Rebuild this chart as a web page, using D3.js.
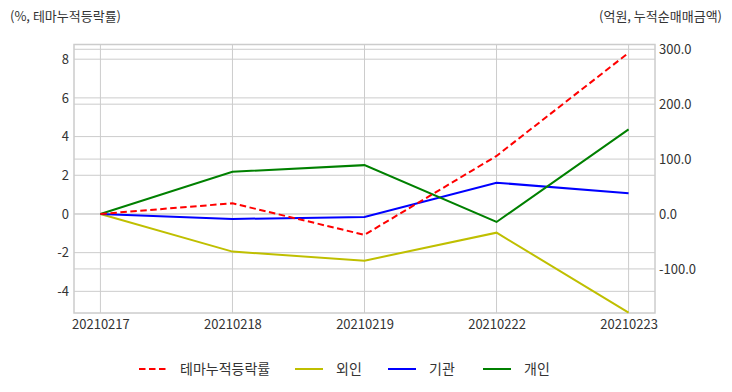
<!DOCTYPE html>
<html>
<head>
<meta charset="utf-8">
<script src="https://cdn.jsdelivr.net/npm/d3@7"></script>
<style>
  body { margin: 0; background: #fff; }
  svg text { font-family: "Noto Sans CJK KR", "Noto Sans", sans-serif; fill: #333; }
</style>
</head>
<body>
<div id="chart"></div>
<script>
// data
var dates = ["20210217", "20210218", "20210219", "20210222", "20210223"];
var themeRate = [0, 0.55, -1.08, 3.0, 8.33];   // %, left axis
var foreign = [0, -68.5, -85, -34, -179.5];     // 억원, right axis
var institution = [0, -9, -5.5, 57, 37.6];
var individual = [0, 77, 89, -14.5, 154];
var leftTicks = [-4, -2, 0, 2, 4, 6, 8];
var rightTicks = [-100, 0, 100, 200, 300];

var width = 732, height = 392;
var plot = { l: 74, r: 655, t: 44.5, b: 313 };

var svg = d3.select("#chart").append("svg")
    .attr("width", width)
    .attr("height", height);

var x = d3.scalePoint().domain(dates).range([plot.l, plot.r]).padding(0.2);
var yL = d3.scaleLinear().domain([-5.12, 8.76]).range([plot.b, plot.t]);
var yR = d3.scaleLinear().domain([-180.3, 308.7]).range([plot.b, plot.t]);

// hyphen minus like the original
var fmtL = d => String(d);
var fmtR = d => d.toFixed(1);

// grid lines
var grid = svg.append("g").attr("stroke", "#cccccc").attr("stroke-width", 1);
grid.selectAll(".gl").data(leftTicks).enter().append("line")
    .attr("x1", plot.l).attr("x2", plot.r)
    .attr("y1", d => yL(d)).attr("y2", d => yL(d));
grid.selectAll(".gr").data(rightTicks).enter().append("line")
    .attr("x1", plot.l).attr("x2", plot.r)
    .attr("y1", d => yR(d)).attr("y2", d => yR(d));
grid.selectAll(".gx").data(dates).enter().append("line")
    .attr("x1", d => x(d)).attr("x2", d => x(d))
    .attr("y1", plot.t).attr("y2", plot.b);

// frame
svg.append("rect")
    .attr("x", plot.l).attr("y", plot.t)
    .attr("width", plot.r - plot.l).attr("height", plot.b - plot.t)
    .attr("fill", "none").attr("stroke", "#cccccc").attr("stroke-width", 1.5);

// axes
var axL = svg.append("g").attr("transform", "translate(" + plot.l + ",0)")
    .call(d3.axisLeft(yL).tickValues(leftTicks).tickSize(0).tickPadding(5).tickFormat(fmtL));
var axR = svg.append("g").attr("transform", "translate(" + plot.r + ",0)")
    .call(d3.axisRight(yR).tickValues(rightTicks).tickSize(0).tickPadding(4).tickFormat(fmtR));
var axX = svg.append("g").attr("transform", "translate(0," + plot.b + ")")
    .call(d3.axisBottom(x).tickSize(0).tickPadding(6));
[axL, axR, axX].forEach(function(a) {
    a.select(".domain").remove();
    a.selectAll("text").attr("font-size", "13px").attr("fill", "#333");
});
axX.selectAll("text").attr("dy", "0.75em");

// lines
var series = [
    { name: "테마누적등락률", values: themeRate, y: yL, color: "#ff0000", dash: "6.5,3.5" },
    { name: "외인", values: foreign, y: yR, color: "#bfbf00", dash: null },
    { name: "기관", values: institution, y: yR, color: "#0000ff", dash: null },
    { name: "개인", values: individual, y: yR, color: "#008000", dash: null }
];
var drawOrder = [1, 2, 3, 0];
drawOrder.forEach(function(i) {
    var s = series[i];
    var line = d3.line().x((d, j) => x(dates[j])).y(d => s.y(d));
    svg.append("path")
        .attr("d", line(s.values))
        .attr("fill", "none")
        .attr("stroke", s.color)
        .attr("stroke-width", 2)
        .attr("stroke-dasharray", s.dash);
});

// axis titles
svg.append("text").attr("x", 10).attr("y", 21).attr("font-size", "13px")
    .text("(%, 테마누적등락률)");
svg.append("text").attr("x", 722).attr("y", 21).attr("font-size", "13px")
    .attr("text-anchor", "end").text("(억원, 누적순매매금액)");

// legend
var legendX = [139, 295, 388, 483];
var lg = svg.append("g");
series.forEach(function(s, i) {
    var g = lg.append("g").attr("transform", "translate(" + legendX[i] + ",369)");
    g.append("line").attr("x1", 0).attr("x2", 28).attr("y1", 0).attr("y2", 0)
        .attr("stroke", s.color).attr("stroke-width", 2)
        .attr("stroke-dasharray", s.dash);
    g.append("text").attr("x", 41).attr("y", 0).attr("dy", "0.35em")
        .attr("font-size", "14px").text(s.name);
});
</script>
</body>
</html>
